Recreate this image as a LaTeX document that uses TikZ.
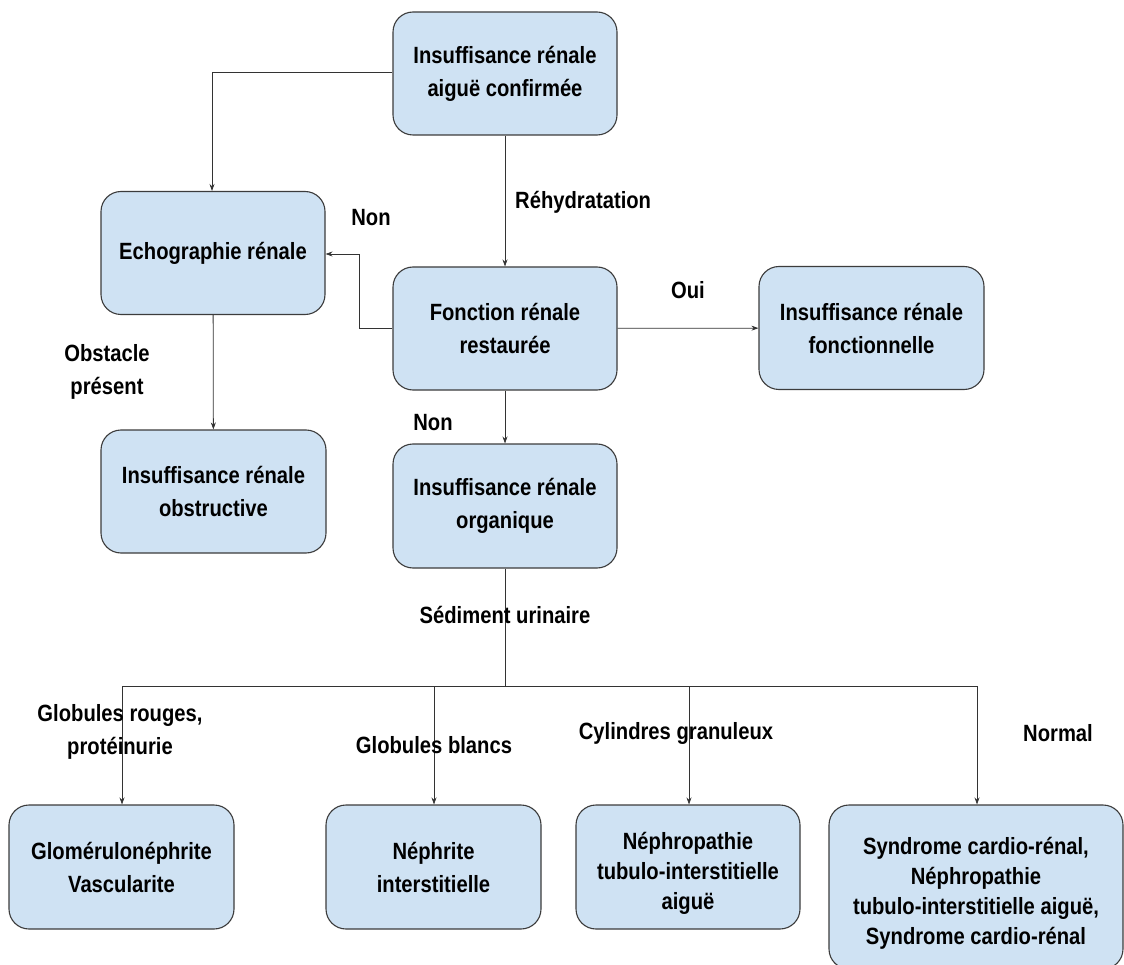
\documentclass[tikz,border=0pt]{standalone}
\usepackage{fontspec}
\setmainfont{Liberation Sans}[BoldFeatures={FakeStretch=0.86}]
\usetikzlibrary{arrows.meta}
\definecolor{boxfill}{HTML}{CFE2F3}
\definecolor{boxline}{HTML}{3C3C3C}
\definecolor{linkline}{HTML}{333333}
\begin{document}
\begin{tikzpicture}[x=1pt,y=-1pt,
  every node/.style={font=\fontsize{23.5}{33}\selectfont\bfseries, align=center, inner sep=0pt},
  stage/.style={draw=boxline, line width=1.1pt, fill=boxfill, rounded corners=20pt,
                minimum width=224pt, minimum height=123pt},
  tight/.style={font=\fontsize{23.5}{30}\selectfont\bfseries},
  link/.style={draw=linkline, line width=0.8pt, -{Stealth[length=7pt,width=5pt]}},
  plain/.style={draw=linkline, line width=0.8pt},
  tag/.style={text=black}]
\useasboundingbox (0,0) rectangle (1124,965);
\fill[white] (0,0) rectangle (1124,965);

% decision boxes
\node[stage] (confirm) at (505,73.5) {Insuffisance rénale\\aiguë confirmée};
\node[stage] (echo) at (213,253) {Echographie rénale};
\node[stage] (restore) at (505,328.5) {Fonction rénale\\restaurée};
\node[stage, minimum width=225pt] (func) at (871.5,328) {Insuffisance rénale\\fonctionnelle};
\node[stage, minimum width=225pt] (obstr) at (213.5,491.5) {Insuffisance rénale\\obstructive};
\node[stage, minimum height=124pt] (organ) at (505,506) {Insuffisance rénale\\organique};

% final diagnoses
\node[stage, minimum width=225pt, minimum height=124pt] (glom) at (121.5,867) {Glomérulonéphrite\\Vascularite};
\node[stage, minimum width=215pt, minimum height=124pt] (nephr) at (433.5,867) {Néphrite\\interstitielle};
\node[stage, minimum width=224pt, minimum height=124pt] (ntia) at (688,867) {};
\node[tight] (ntiaText) at (688,873) {Néphropathie\\tubulo-interstitielle\\aiguë};
\node[stage, minimum width=294pt, minimum height=164pt] (cardio) at (976,887) {};
\node[tight] (cardioText) at (976,893) {Syndrome cardio-rénal,\\Néphropathie\\tubulo-interstitielle aiguë,\\Syndrome cardio-rénal};

% branch points
\coordinate (echoTurn) at (212,72);
\coordinate (backA) at (359,328.5);
\coordinate (backB) at (359,254);
\coordinate (split) at (505,686);
\coordinate (sL) at (122,686);
\coordinate (sB) at (434,686);
\coordinate (sC) at (689,686);
\coordinate (sR) at (977,686);

% connectors
\draw[link] (confirm.west |- echoTurn) -- (echoTurn) -- (echo.north -| echoTurn);
\draw[link] (confirm) -- (restore);
\draw[link] (restore.west |- backA) -- (backA) -- (backB) -- (echo.east |- backB);
\draw[link] (restore) -- (func);
\draw[link] (echo) -- (obstr);
\draw[link] (restore) -- (organ);
\draw[plain] (organ.south) -- (split);
\draw[plain] (sL) -- (sR);
\draw[link] (sL) -- (glom.north -| sL);
\draw[link] (sB) -- (nephr.north -| sB);
\draw[link] (sC) -- (ntia.north -| sC);
\draw[link] (sR) -- (cardio.north -| sR);

% connector labels
\node[tag, anchor=west] (lRehyd) at (515,202) {Réhydratation};
\node[tag] (lNon1) at (371,218) {Non};
\node[tag] (lOui) at (688,290) {Oui};
\node[tag] (lNon2) at (433,423) {Non};
\node[tag] (lObst) at (107,372) {Obstacle\\présent};
\node[tag] (lSed) at (505,615) {Sédiment urinaire};
\node[tag] (lGR) at (120,732) {Globules rouges,\\protéinurie};
\node[tag] (lGB) at (434,745) {Globules blancs};
\node[tag] (lCyl) at (676,733) {Cylindres granuleux};
\node[tag] (lNorm) at (1058,733) {Normal};
\end{tikzpicture}
\end{document}
